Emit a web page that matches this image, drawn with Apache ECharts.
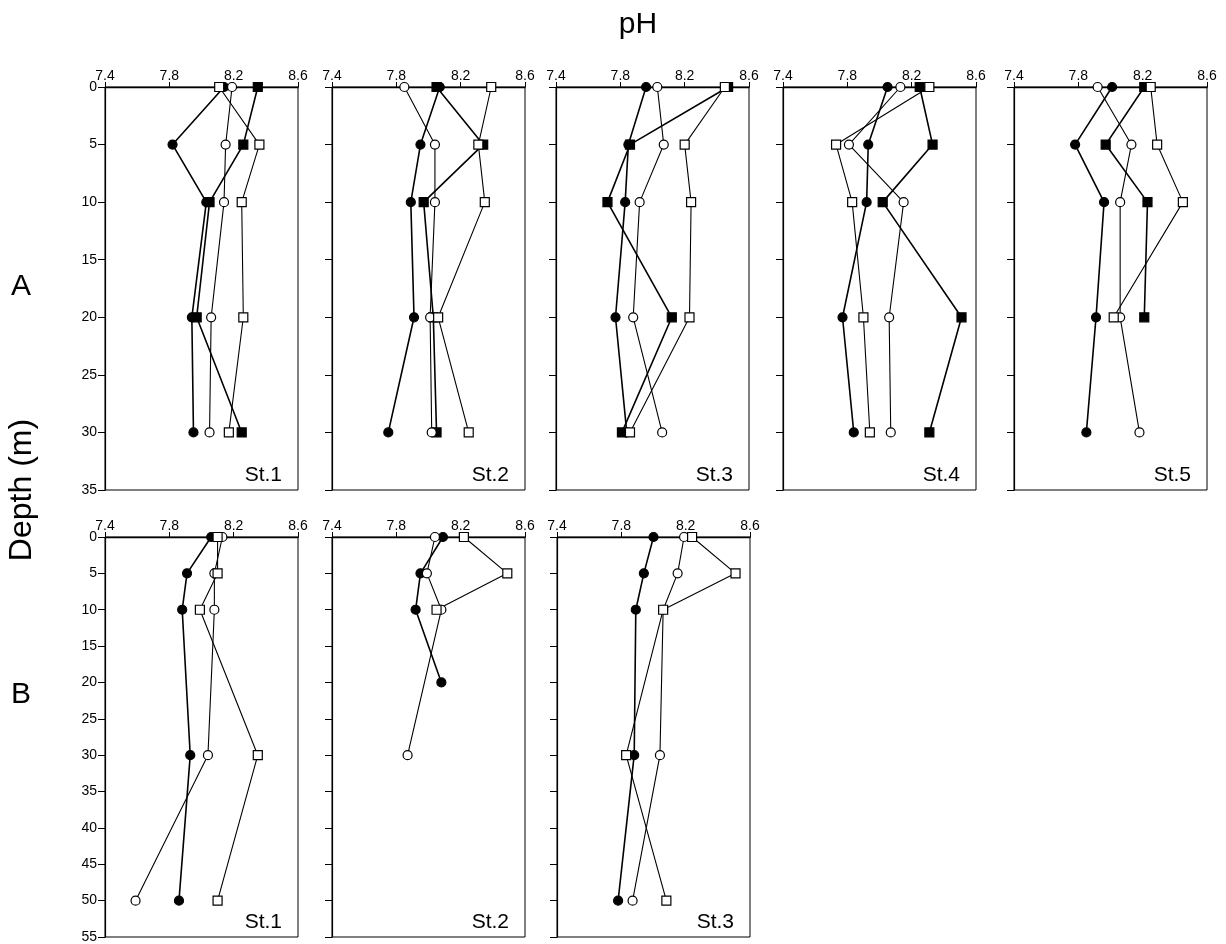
<!DOCTYPE html>
<html>
<head>
<meta charset="utf-8">
<script src="https://cdn.jsdelivr.net/npm/echarts@6/dist/echarts.min.js"></script>
<style>
html,body{margin:0;padding:0;background:#fff;}
#chart{width:1226px;height:944px;}
</style>
</head>
<body>
<div id="chart"></div>
<script>
// ---------- DATA ----------
const phTicks = [7.4, 7.8, 8.2, 8.6];
const depthTicksA = [0, 5, 10, 15, 20, 25, 30, 35];
const depthTicksB = [0, 5, 10, 15, 20, 25, 30, 35, 40, 45, 50, 55];
const stationLabels = ['St.1', 'St.2', 'St.3', 'St.4', 'St.5', 'St.1', 'St.2', 'St.3'];

const depthsA = [0, 5, 10, 20, 30];
const depthsB = [0, 5, 10, 30, 50];
const depthsB2 = [0, 5, 10, 20, 30];

// series keys: fc = filled circle, oc = open circle, fs = filled square, os = open square
const A1_fc = [8.14, 7.82, 8.03, 7.94, 7.95];
const A1_oc = [8.19, 8.15, 8.14, 8.06, 8.05];
const A1_fs = [8.35, 8.26, 8.05, 7.97, 8.25];
const A1_os = [8.11, 8.36, 8.25, 8.26, 8.17];

const A2_fc = [8.07, 7.95, 7.89, 7.91, 7.75];
const A2_oc = [7.85, 8.04, 8.04, 8.01, 8.02];
const A2_fs = [8.05, 8.34, 7.97, 8.03, 8.05];
const A2_os = [8.39, 8.31, 8.35, 8.06, 8.25];

const A3_fc = [7.96, 7.85, 7.83, 7.77, 7.84];
const A3_oc = [8.03, 8.07, 7.92, 7.88, 8.06];
const A3_fs = [8.47, 7.86, 7.72, 8.12, 7.81];
const A3_os = [8.45, 8.20, 8.24, 8.23, 7.86];

const A4_fc = [8.05, 7.93, 7.92, 7.77, 7.84];
const A4_oc = [8.13, 7.81, 8.15, 8.06, 8.07];
const A4_fs = [8.25, 8.33, 8.02, 8.51, 8.31];
const A4_os = [8.31, 7.73, 7.83, 7.90, 7.94];

const A5_fc = [8.01, 7.78, 7.96, 7.91, 7.85];
const A5_oc = [7.92, 8.13, 8.06, 8.06, 8.18];
const A5_fs = [8.21, 7.97, 8.23, 8.21, null];
const A5_os = [8.25, 8.29, 8.45, 8.02, null];

const B1_fc = [8.06, 7.91, 7.88, 7.93, 7.86];
const B1_oc = [8.13, 8.08, 8.08, 8.04, 7.59];
const B1_os = [8.10, 8.10, 7.99, 8.35, 8.10];

const B2_fc = [8.09, 7.95, 7.92, 8.08, null];
const B2_oc = [8.04, 7.99, 8.08, null, 7.87];
const B2_os = [8.22, 8.49, 8.05, null, null];

const B3_fc = [8.00, 7.94, 7.89, 7.88, 7.78];
const B3_oc = [8.19, 8.15, 8.06, 8.04, 7.87];
const B3_os = [8.24, 8.51, 8.06, 7.83, 8.08];

// ---------- LAYOUT ----------
const panels = [
  {left: 105, top: 87, height: 403, depths: depthsA, maxD: 35, ser: {fc: A1_fc, oc: A1_oc, fs: A1_fs, os: A1_os}, labels: true},
  {left: 332, top: 87, height: 403, depths: depthsA, maxD: 35, ser: {fc: A2_fc, oc: A2_oc, fs: A2_fs, os: A2_os}},
  {left: 556, top: 87, height: 403, depths: depthsA, maxD: 35, ser: {fc: A3_fc, oc: A3_oc, fs: A3_fs, os: A3_os}},
  {left: 783, top: 87, height: 403, depths: depthsA, maxD: 35, ser: {fc: A4_fc, oc: A4_oc, fs: A4_fs, os: A4_os}},
  {left: 1014, top: 87, height: 403, depths: depthsA, maxD: 35, ser: {fc: A5_fc, oc: A5_oc, fs: A5_fs, os: A5_os}},
  {left: 105, top: 537, height: 400, depths: depthsB, maxD: 55, ser: {fc: B1_fc, oc: B1_oc, os: B1_os}, labels: true},
  {left: 332, top: 537, height: 400, depths: depthsB2, maxD: 55, ser: {fc: B2_fc, oc: B2_oc, os: B2_os}},
  {left: 557, top: 537, height: 400, depths: depthsB, maxD: 55, ser: {fc: B3_fc, oc: B3_oc, os: B3_os}}
];
const PW = 193;
const FONT = '"Liberation Sans", Arial, sans-serif';

const styles = {
  fc: {symbol: 'circle', fill: '#000', lw: 1.6},
  oc: {symbol: 'circle', fill: '#fff', lw: 1.1},
  fs: {symbol: 'rect', fill: '#000', lw: 1.6},
  os: {symbol: 'rect', fill: '#fff', lw: 1.1}
};
const order = ['fc', 'fs', 'oc', 'os'];

const grids = [], xAxes = [], yAxes = [], series = [], graphics = [];

panels.forEach((p, i) => {
  grids.push({left: p.left, top: p.top, width: PW, height: p.height, show: true,
    borderColor: '#000', borderWidth: 1, backgroundColor: 'transparent', containLabel: false});
  xAxes.push({
    gridIndex: i, type: 'value', position: 'top', min: 7.4, max: 8.6,
    axisLine: {show: true, onZero: false, lineStyle: {color: '#000', width: 1.3}},
    axisTick: {show: true, inside: false, length: 5, customValues: phTicks, lineStyle: {color: '#000', width: 1}},
    axisLabel: {show: true, customValues: phTicks, formatter: v => Number(v).toFixed(1),
      color: '#000', fontSize: 14, fontFamily: FONT, margin: 4},
    splitLine: {show: false}
  });
  yAxes.push({
    gridIndex: i, type: 'value', inverse: true, min: 0, max: p.maxD, interval: 5,
    axisLine: {show: true, onZero: false, lineStyle: {color: '#000', width: 1.2}},
    axisTick: {show: true, inside: false, length: 7, lineStyle: {color: '#000', width: 1}},
    axisLabel: {show: !!p.labels, color: '#000', fontSize: 14, fontFamily: FONT, margin: 8},
    splitLine: {show: false}
  });
  order.forEach(k => {
    const vals = p.ser[k];
    if (!vals) return;
    const st = styles[k];
    const data = [];
    vals.forEach((v, j) => { if (v !== null && v !== undefined) data.push([v, p.depths[j]]); });
    series.push({
      type: 'line', xAxisIndex: i, yAxisIndex: i, data: data,
      symbol: st.symbol, symbolSize: 9, showSymbol: true, showAllSymbol: true,
      lineStyle: {color: '#000', width: st.lw},
      itemStyle: {color: st.fill, borderColor: '#000', borderWidth: 1.2},
      emphasis: {disabled: true}, animation: false, silent: true
    });
  });
  graphics.push({
    type: 'text', right: 1226 - (p.left + PW) + 16, top: p.top + p.height - 25,
    style: {text: stationLabels[i], font: '21px ' + FONT, fill: '#000'}
  });
});

graphics.push({type: 'text', x: 638, y: 25, style: {text: 'pH', font: '30px ' + FONT, fill: '#000', align: 'center', verticalAlign: 'middle'}});
graphics.push({type: 'text', x: 21, y: 287, style: {text: 'A', font: '30px ' + FONT, fill: '#000', align: 'center', verticalAlign: 'middle'}});
graphics.push({type: 'text', x: 21, y: 695, style: {text: 'B', font: '30px ' + FONT, fill: '#000', align: 'center', verticalAlign: 'middle'}});
graphics.push({type: 'text', x: 22, y: 490, rotation: Math.PI / 2, style: {text: 'Depth (m)', font: '32px ' + FONT, fill: '#000', align: 'center', verticalAlign: 'middle'}});

const chart = echarts.init(document.getElementById('chart'), null, {renderer: 'canvas'});
chart.setOption({
  backgroundColor: '#fff',
  animation: false,
  grid: grids, xAxis: xAxes, yAxis: yAxes, series: series, graphic: graphics
});
</script>
</body>
</html>
